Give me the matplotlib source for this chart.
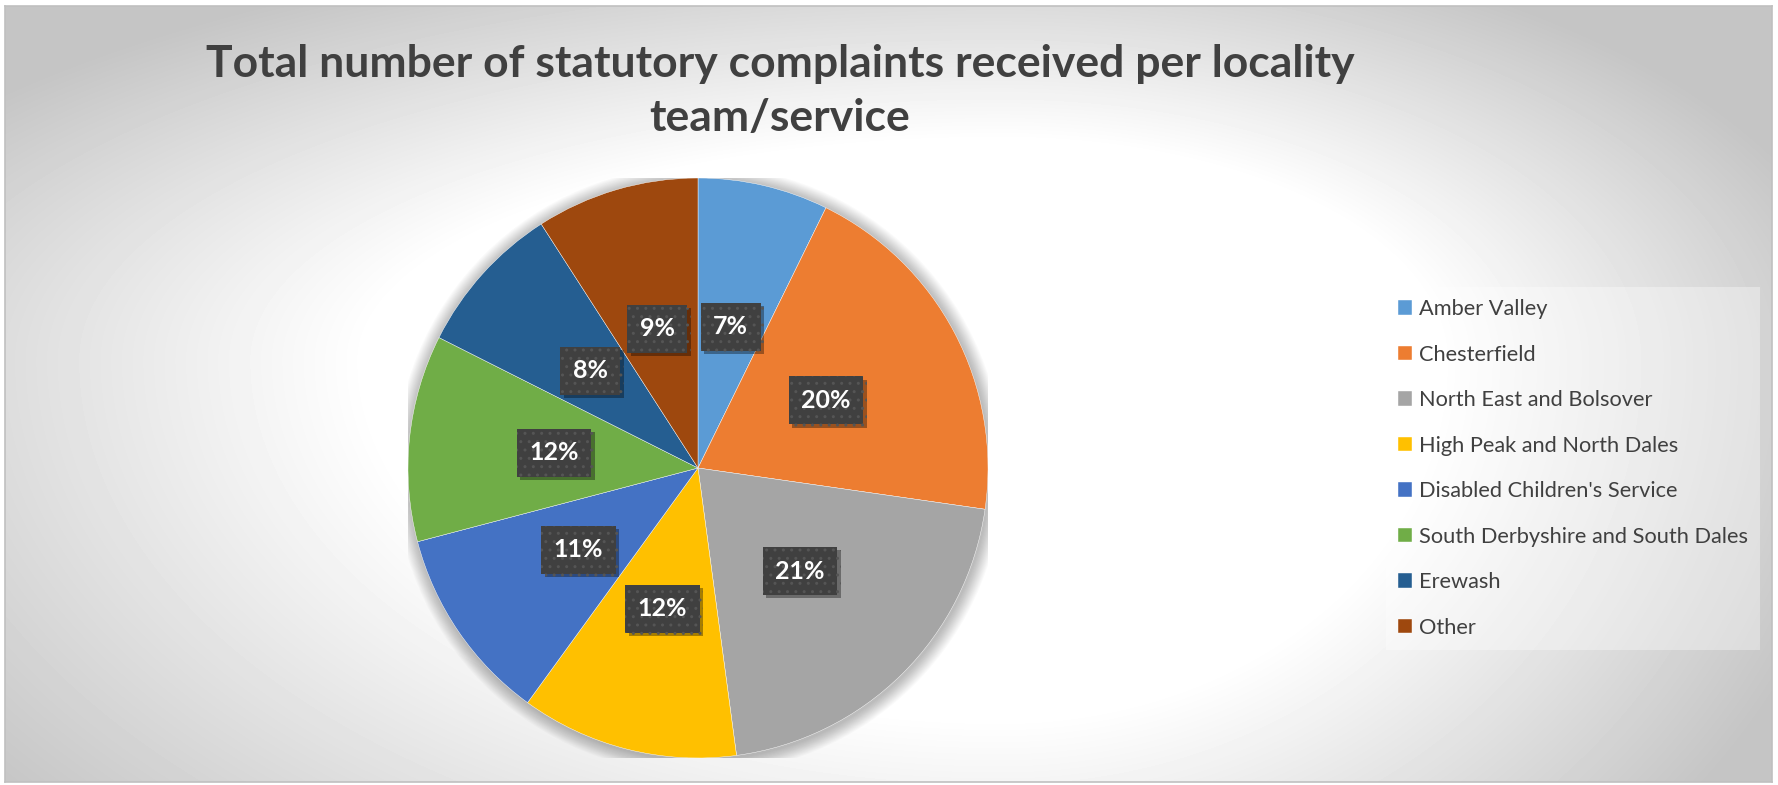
import numpy as np
import matplotlib
matplotlib.use("Agg")
import matplotlib.pyplot as plt
import matplotlib.patheffects as pe
from matplotlib.patches import Circle

# Complaint counts per locality team/service
teams = ["Amber Valley", "Chesterfield", "North East and Bolsover",
         "High Peak and North Dales", "Disabled Children's Service",
         "South Derbyshire and South Dales", "Erewash", "Other"]
complaints = [12, 33, 34, 20, 18, 19, 14, 15]
colors = ["#5B9BD5", "#ED7D31", "#A5A5A5", "#FFC000",
          "#4472C4", "#70AD47", "#255E91", "#9E480E"]
title = "Total number of statutory complaints received per locality\nteam/service"

W, H = 1778, 785
plt.rcParams['font.family'] = ['Lato', 'DejaVu Sans']

fig = plt.figure(figsize=(W / 100, H / 100), dpi=100)
fig.patch.set_facecolor("white")

# Background: elliptical radial gradient, white in the middle, grey at edges
bx0, bx1, by0, by1 = 5, 1772, 6, 782
bg = fig.add_axes([bx0 / W, 1 - by1 / H, (bx1 - bx0) / W, (by1 - by0) / H], zorder=0)
xx, yy = np.meshgrid(np.arange(bx0, bx1), np.arange(by0, by1))
cx, cy = 1000, 360
dx = np.where(xx < cx, (xx - cx) / 1150, (xx - cx) / 800)
dy = np.where(yy < cy, (yy - cy) / 400, (yy - cy) / 650)
d = np.sqrt(dx ** 2 + dy ** 2)
shade = np.clip(1 - 0.42 * np.clip(d - 0.55, 0, None), 0.77, 1)
bg.imshow(shade, cmap="gray", vmin=0, vmax=1, aspect="auto", interpolation="bilinear")
bg.set_xticks([])
bg.set_yticks([])
for s in bg.spines.values():
    s.set_edgecolor("#c0c0c0")
    s.set_linewidth(1.2)

# Pie axes (centre ~ (698, 468) px, radius 290 px)
pcx, pcy, r = 698, 468, 290
ax = fig.add_axes([(pcx - r) / W, (H - pcy - r) / H, 2 * r / W, 2 * r / H], zorder=2)
ax.patch.set_alpha(0)

# soft shadow halo behind the pie
for i in range(14):
    ax.add_patch(Circle((0.004, -0.006), 1 + 0.0035 * (i + 1), facecolor="black",
                        edgecolor="none", alpha=0.018, zorder=0))

wedges, texts, autotexts = ax.pie(
    complaints, colors=colors, startangle=90, counterclock=False,
    autopct="%1.0f%%", pctdistance=0.5, radius=1,
    wedgeprops=dict(edgecolor="white", linewidth=0.3))
for w in wedges:
    w.set_zorder(2)

for t in autotexts:
    t.set_color("white")
    t.set_fontsize(18)
    t.set_fontweight("bold")
    t.set_zorder(5)
    t.set_bbox(dict(boxstyle="square,pad=0.5", facecolor="#404040",
                    edgecolor="#555555", linewidth=0, hatch=".."))
    t.get_bbox_patch().set_path_effects(
        [pe.SimplePatchShadow(offset=(2.5, -2.5), shadow_rgbFace="black", alpha=0.35),
         pe.Normal()])

ax.set_xlim(-1, 1)
ax.set_ylim(-1, 1)
ax.set_aspect("equal")
ax.axis("off")

fig.text(780 / W, 1 - 91 / H, title, ha="center", va="center",
         fontsize=32, fontweight="bold", color="#404040", linespacing=1.45, zorder=3)

leg = fig.legend(wedges, teams, loc="center left",
                 bbox_to_anchor=(1386 / W, 1 - 468.5 / H),
                 fontsize=15.7, frameon=True, fancybox=False,
                 handlelength=0.63, handleheight=0.63, handletextpad=0.35,
                 labelspacing=1.17, borderpad=0.55, borderaxespad=0)
leg.get_frame().set_facecolor("white")
leg.get_frame().set_alpha(0.35)
leg.get_frame().set_edgecolor("none")
for t in leg.get_texts():
    t.set_color("#404040")
leg.set_zorder(4)

fig.savefig("out.png", dpi=100, facecolor=fig.get_facecolor())
